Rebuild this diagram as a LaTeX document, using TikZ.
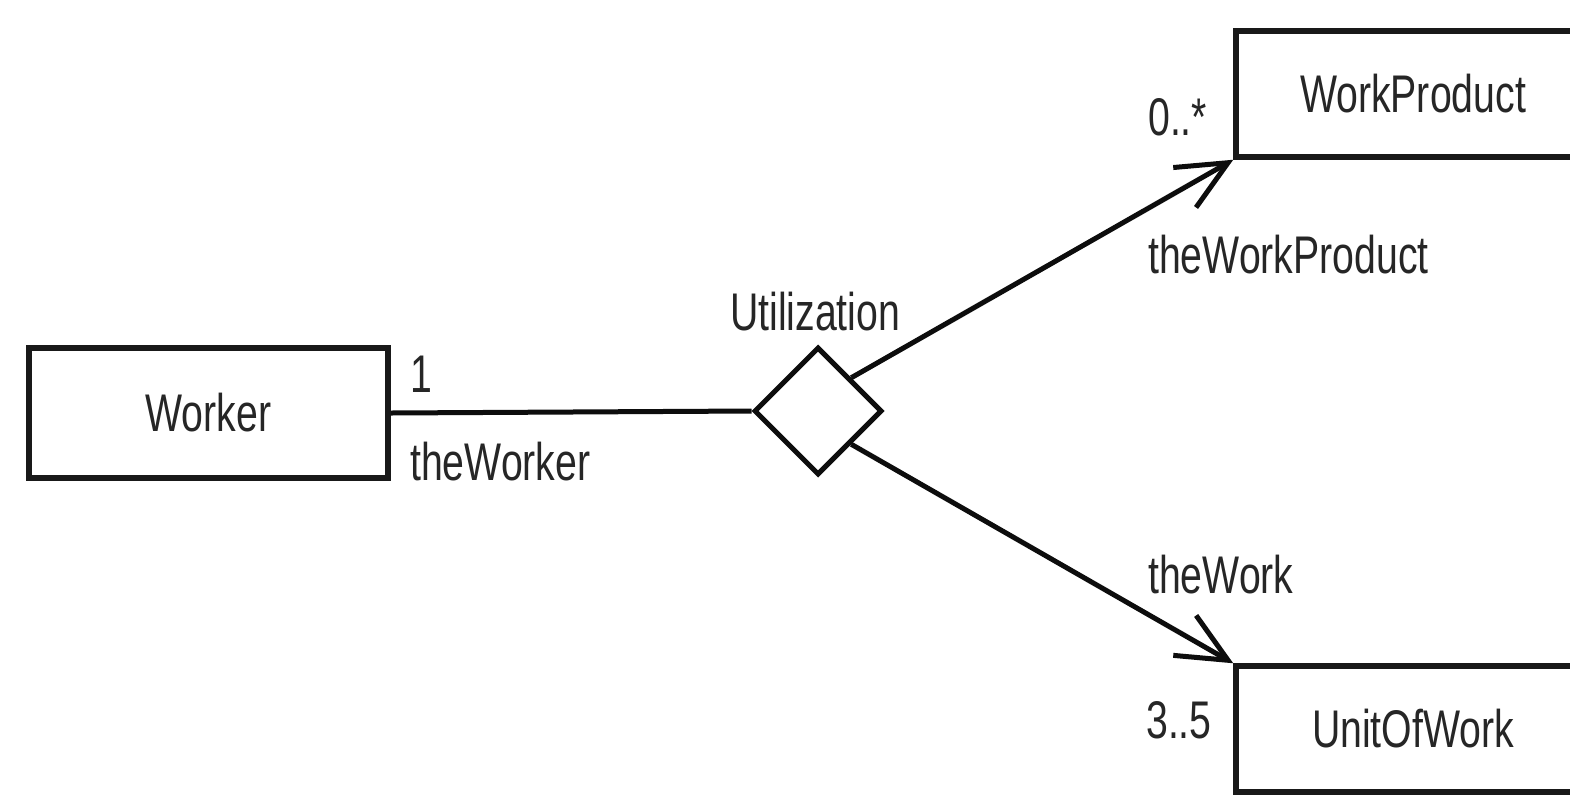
\documentclass[tikz,border=0pt]{standalone}
\usepackage{fontspec}
\setmainfont{Liberation Sans}[FakeStretch=0.74]
\usetikzlibrary{shapes.geometric,arrows.meta}
\begin{document}
\begin{tikzpicture}[x=1pt,y=-1pt,
  every node/.style={font=\fontsize{53}{60}\selectfont, text=black!85},
  classbox/.style={draw=black!90, line width=5.5pt, rectangle, inner sep=0pt, minimum width=354pt, minimum height=126pt},
  assoc/.style={draw=black!95, line width=5pt, diamond, aspect=1, inner sep=0pt, minimum width=128pt, minimum height=128pt},
  link/.style={line width=5pt, black!95},
  navlink/.style={link, -{Straight Barb[length=50pt,width=46pt,line width=5pt]}},
  lbl/.style={anchor=base west, inner sep=0pt}]
  \useasboundingbox (0,0) rectangle (1570,796);
  \fill[white] (0,0) rectangle (1570,796);
  \clip (0,0) rectangle (1570,796);

  % classes and the association diamond
  \node[classbox, minimum width=359pt, minimum height=130pt] (worker) at (208.5,413) {Worker};
  \node[classbox] (product) at (1413,94) {WorkProduct};
  \node[classbox] (unit) at (1413,729) {UnitOfWork};
  \node[assoc] (util) at (818,411) {};

  % association ends
  \draw[link] (worker.east) -- (util.west);
  \draw[navlink] (util.north east) -- (product.south west);
  \draw[navlink] (util.south east) -- (unit.north west);

  % role names and multiplicities
  \node[lbl] (utilname) at (730,330) {Utilization};
  \node[lbl] (m1) at (410,392) {1};
  \node[lbl] (r1) at (410,480) {theWorker};
  \node[lbl] (m2) at (1148,135) {0..*};
  \node[lbl] (r2) at (1148,273) {theWorkProduct};
  \node[lbl] (r3) at (1148,593) {theWork};
  \node[lbl] (m3) at (1146,738) {3..5};
\end{tikzpicture}
\end{document}
